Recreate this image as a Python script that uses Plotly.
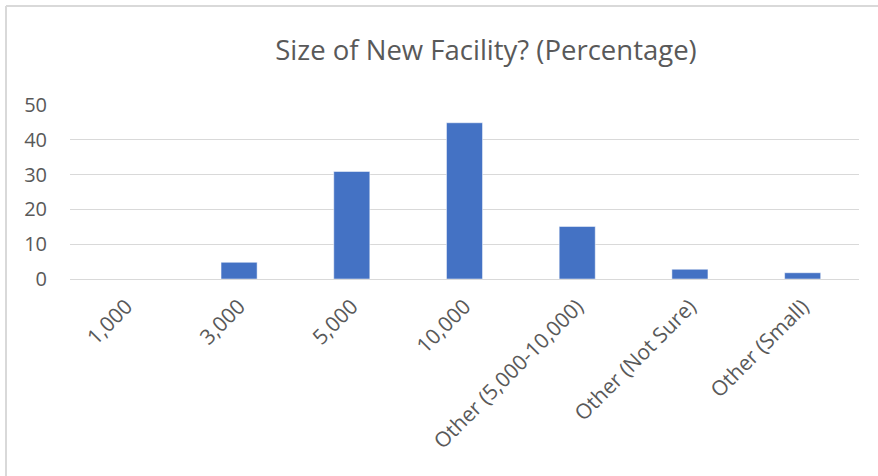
import plotly.graph_objects as go

categories = ["1,000", "3,000", "5,000", "10,000", "Other (5,000-10,000)", "Other (Not Sure)", "Other (Small)"]
values = [0, 4.8, 30.9, 44.9, 15.1, 2.8, 1.8]
y_ticks = [0, 10, 20, 30, 40, 50]

W, H = 878, 476
L, R, T, B = 70, 19, 105, 197

fig = go.Figure(go.Bar(
    x=categories, y=values,
    marker=dict(color="#4472C4", line=dict(color="#ffffff", width=0.5)),
    width=0.32,
))

pw = W - L - R
ph = H - T - B
def px_x(p):
    return (p - L) / pw
def px_y(p):
    return (H - B - p) / ph

fig.update_layout(
    width=W, height=H,
    margin=dict(l=L, r=R, t=T, b=B, autoexpand=False),
    paper_bgcolor="white", plot_bgcolor="white",
    font=dict(family="Open Sans", color="#595959"),
    title=dict(text="Size of New Facility? (Percentage)", xref="paper", x=px_x(486), xanchor="center",
               y=1 - 50 / H, yanchor="middle", font=dict(size=27.5, color="#595959")),
    showlegend=False,
    xaxis=dict(tickangle=-45, tickfont=dict(size=21, color="#595959"), showgrid=False,
               showline=True, linecolor="#d9d9d9", linewidth=1, ticks="", automargin=False,
               ticklabelstandoff=6),
    yaxis=dict(range=[0, 50], tickvals=y_ticks, tickfont=dict(size=20, color="#595959"),
               showgrid=True, gridcolor="#d9d9d9", gridwidth=1, zeroline=False,
               showline=False, ticks="", ticklabelstandoff=22, automargin=False),
    shapes=[
        dict(type="line", xref="paper", yref="paper", x0=px_x(6), x1=px_x(6), y0=px_y(6), y1=px_y(H + 5),
             line=dict(color="#d9d9d9", width=2)),
        dict(type="line", xref="paper", yref="paper", x0=px_x(6), x1=px_x(W + 5), y0=px_y(6), y1=px_y(6),
             line=dict(color="#d9d9d9", width=2)),
    ],
)
fig.write_html("out.html", config={"displayModeBar": False},
               post_script="document.body.style.margin='0px';")
